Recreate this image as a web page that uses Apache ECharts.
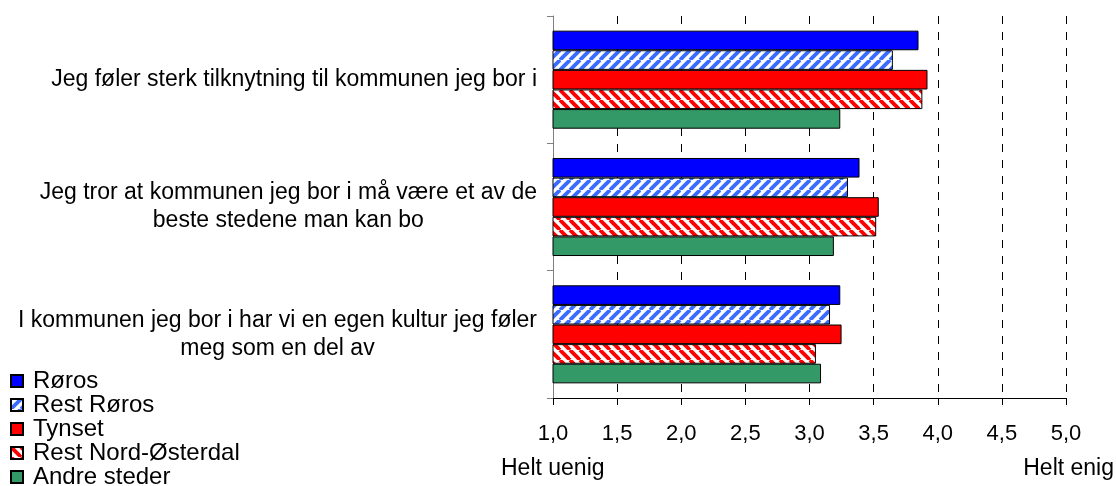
<!DOCTYPE html>
<html>
<head>
<meta charset="utf-8">
<script src="https://cdn.jsdelivr.net/npm/echarts@6/dist/echarts.min.js"></script>
<style>
html,body{margin:0;padding:0;background:#fff;}
#chart{width:1116px;height:486px;}
</style>
</head>
<body>
<div id="chart"></div>
<script>
// ---- data ----
const categories = [
  'Jeg føler sterk tilknytning til kommunen jeg bor i',
  'Jeg tror at kommunen jeg bor i må være et av de\nbeste stedene man kan bo',
  'I kommunen jeg bor i har vi en egen kultur jeg føler\nmeg som en del av'
];
const seriesNames = ['Røros', 'Rest Røros', 'Tynset', 'Rest Nord-Østerdal', 'Andre steder'];
const roros = [3.85, 3.39, 3.24];
const restRoros = [3.65, 3.30, 3.16];
const tynset = [3.92, 3.54, 3.25];
const restNordOsterdal = [3.88, 3.52, 3.05];
const andreSteder = [3.24, 3.19, 3.09];
const axisMin = 1.0, axisMax = 5.0, axisStep = 0.5;
const leftNote = 'Helt uenig', rightNote = 'Helt enig';

const FONT = '"Liberation Sans", Arial, sans-serif';

function stripes(color, dir) {
  const s = 10;
  const c = document.createElement('canvas');
  c.width = s; c.height = s;
  const ctx = c.getContext('2d');
  ctx.fillStyle = '#ffffff';
  ctx.fillRect(0, 0, s, s);
  ctx.strokeStyle = color;
  ctx.lineWidth = 3.8;
  for (const o of [-s, 0, s]) {
    ctx.beginPath();
    if (dir === '/') { ctx.moveTo(o, s); ctx.lineTo(o + s, 0); }
    else { ctx.moveTo(o, 0); ctx.lineTo(o + s, s); }
    ctx.stroke();
  }
  return { image: c, repeat: 'repeat' };
}

const fills = [
  '#0000ff',
  stripes('#3a6cff', '/'),
  '#ff0000',
  stripes('#ff0000', '\\'),
  '#339966'
];
const values = [roros, restRoros, tynset, restNordOsterdal, andreSteder];

const chart = echarts.init(document.getElementById('chart'), null, { renderer: 'canvas' });

const series = seriesNames.map((name, i) => ({
  name: name,
  type: 'bar',
  data: values[i],
  barGap: '0%',
  barCategoryGap: '23%',
  itemStyle: { color: fills[i], borderColor: '#000', borderWidth: 1 },
  emphasis: { disabled: true },
  animation: false
}));

chart.setOption({
  animation: false,
  backgroundColor: '#ffffff',
  textStyle: { fontFamily: FONT },
  grid: { left: 553, right: 50, top: 16, bottom: 88, containLabel: false },
  legend: {
    orient: 'vertical',
    left: 10,
    top: 369,
    height: 140,
    padding: 0,
    itemWidth: 12,
    itemHeight: 12,
    itemGap: 0,
    icon: 'rect',
    selectedMode: false,
    textStyle: { fontFamily: FONT, fontSize: 24, color: '#000', lineHeight: 23, padding: [0, 0, 0, 5] },
    data: seriesNames
  },
  xAxis: {
    type: 'value',
    min: axisMin,
    max: axisMax,
    interval: axisStep,
    axisLine: { show: true, lineStyle: { color: '#000', width: 1 } },
    axisTick: { show: true, length: 7, lineStyle: { color: '#000' } },
    axisLabel: {
      margin: 25,
      fontFamily: FONT,
      fontSize: 22,
      color: '#000',
      formatter: v => v.toFixed(1).replace('.', ',')
    },
    splitLine: { show: true, lineStyle: { color: '#000', type: [8, 8], width: 1 } }
  },
  yAxis: {
    type: 'category',
    data: categories,
    inverse: true,
    axisLine: { show: true, lineStyle: { color: '#808080', width: 1 } },
    axisTick: { show: true, length: 6, lineStyle: { color: '#808080' } },
    axisLabel: {
      margin: 16,
      formatter: v => v.split('\n').map(l => '{c|' + l + '}').join('\n'),
      rich: {
        c: { align: 'center', fontFamily: FONT, fontSize: 23, color: '#000', lineHeight: 28 }
      }
    },
    splitLine: { show: false }
  },
  graphic: [
    { type: 'text', left: 501, top: 457, style: { text: leftNote, font: '23px ' + FONT, fill: '#000' } },
    { type: 'text', right: 2, top: 457, style: { text: rightNote, font: '23px ' + FONT, fill: '#000' } }
  ],
  series: series
});
</script>
</body>
</html>
